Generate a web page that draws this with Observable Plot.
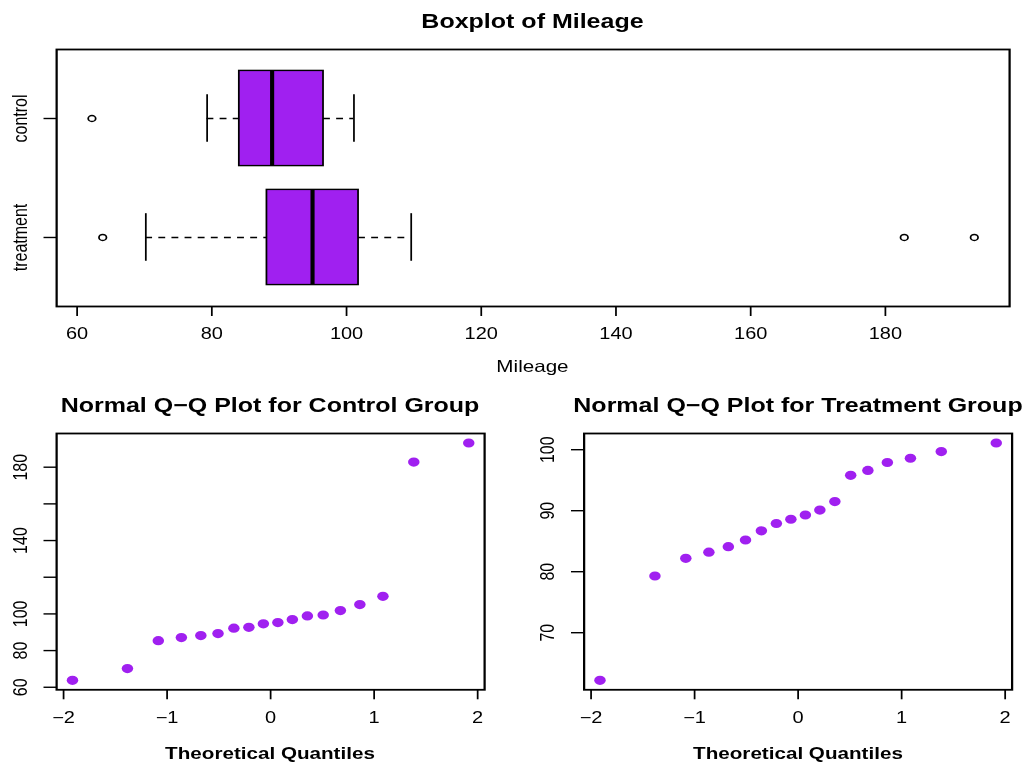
<!DOCTYPE html>
<html><head><meta charset="utf-8">
<script src="https://cdn.jsdelivr.net/npm/d3@7"></script>
<script src="https://cdn.jsdelivr.net/npm/@observablehq/plot@0.6"></script>
<style>
html,body{margin:0;padding:0;background:#fff;overflow:hidden;}
#fig{position:relative;width:820.8px;height:764px;transform:scaleX(1.25);transform-origin:0 0;font-family:"Liberation Sans",Arial,Helvetica,sans-serif;color:#000;}
.lbl{position:absolute;text-align:center;white-space:nowrap;color:#000;}
</style></head><body><div id="fig"></div>
<script>
// ---------------- data ----------------
const groups = ["control", "treatment"];
const groupPositions = [2, 1];
// sorted mileage values
const controlMileage = [62.2, 79.3, 82.2, 83.2, 84.1, 85.2, 86.7, 87.9, 88.6, 89.3, 90.1, 91.5, 95.8, 96.6, 97.9, 98.6, 99.7, 101.1];
const treatmentMileage = [63.8, 70.2, 85.4, 87.1, 88.2, 89.3, 92.2, 92.7, 94.6, 95.3, 96.9, 98.9, 99.4, 101.8, 105.1, 109.6, 182.8, 193.2];
// theoretical normal quantiles of the 18 points (x positions in the Q-Q plots)
const theoreticalQuantiles = [-1.914, -1.383, -1.085, -0.862, -0.674, -0.508, -0.355, -0.210, -0.070, 0.070, 0.210, 0.355, 0.508, 0.674, 0.862, 1.085, 1.383, 1.914];
// as in the picture: the left panel ("Control Group") shows the wider-ranging sample
const qqLeftValues = treatmentMileage;
const qqRightValues = controlMileage;

const boxTitle = "Boxplot of Mileage";
const boxXLabel = "Mileage";
const qqLeftTitle = "Normal Q\u2212Q Plot for Control Group";
const qqRightTitle = "Normal Q\u2212Q Plot for Treatment Group";
const qqXLabel = "Theoretical Quantiles";

const boxXTicks = [60, 80, 100, 120, 140, 160, 180];
const qqXTicks = [-2, -1, 0, 1, 2];
const qqXTickLabels = ["\u22122", "\u22121", "0", "1", "2"];
const qqLeftYTicks = [60, 80, 100, 120, 140, 160, 180];
const qqLeftYTickLabels = ["60", "80", "100", "", "140", "", "180"];
const qqRightYTicks = [70, 80, 90, 100];
const qqRightYTickLabels = ["70", "80", "90", "100"];

// ---------------- helpers ----------------
const S = 1.25;               // horizontal stretch of the reference
const W = 1026 / S;
const PURPLE = "#A020F0";
const FONT = "'Liberation Sans', Arial, Helvetica, sans-serif";
const TICK_FONT = 16;
const fig = document.getElementById("fig");

function pad4([lo, hi]) { const d = hi - lo; return [lo - 0.04 * d, hi + 0.04 * d]; }

function boxStats(values, pos) {
  const s = values.slice().sort((a, b) => a - b);
  const n = s.length;
  const n4 = Math.floor((n + 3) / 2) / 2;
  const idx = [1, n4, (n + 1) / 2, n + 1 - n4, n];
  const q = idx.map(v => 0.5 * (s[Math.floor(v) - 1] + s[Math.ceil(v) - 1]));
  const iqr = q[3] - q[1];
  const loF = q[1] - 1.5 * iqr, hiF = q[3] + 1.5 * iqr;
  const inside = s.filter(v => v >= loF && v <= hiF);
  return {
    pos, q1: q[1], med: q[2], q3: q[3],
    lo: d3.min(inside), hi: d3.max(inside),
    out: s.filter(v => v < loF || v > hiF)
  };
}

const stats = [boxStats(controlMileage, groupPositions[0]), boxStats(treatmentMileage, groupPositions[1])];
const whiskerSegs = stats.flatMap(s => [{pos: s.pos, a: s.lo, b: s.q1}, {pos: s.pos, a: s.q3, b: s.hi}]);
const staples = stats.flatMap(s => [{pos: s.pos, v: s.lo}, {pos: s.pos, v: s.hi}]);
const outliers = stats.flatMap(s => s.out.map(v => ({pos: s.pos, v})));

const baseStyle = {fontFamily: FONT, color: "#000", background: "transparent", overflow: "visible"};

function place(el, left, top) {
  el.style.position = "absolute";
  el.style.left = left + "px";
  el.style.top = top + "px";
  fig.appendChild(el);
}
// text centred on (centerX, centerY) in the unstretched layout
function label(text, centerX, centerY, size, bold) {
  const w = 600;
  const d = document.createElement("div");
  d.className = "lbl";
  d.textContent = text;
  d.style.left = (centerX - w / 2) + "px";
  d.style.width = w + "px";
  d.style.top = (centerY - size / 2) + "px";
  d.style.fontSize = size + "px";
  d.style.lineHeight = size + "px";
  d.style.fontWeight = bold ? "bold" : "normal";
  fig.appendChild(d);
}

// ---------------- boxplot ----------------
const allValues = controlMileage.concat(treatmentMileage);
const boxFrameL = 56 / S, boxFrameR = 1009 / S;
const boxPlot = Plot.plot({
  width: W, height: 340,
  marginLeft: boxFrameL, marginRight: W - boxFrameR, marginTop: 49, marginBottom: 34,
  x: {domain: pad4(d3.extent(allValues))},
  y: {domain: pad4([0.5, 2.5])},
  style: baseStyle,
  marks: [
    Plot.ruleY(whiskerSegs, {y: "pos", x1: "a", x2: "b", stroke: "black", strokeWidth: 1.3, strokeDasharray: "5.5,5"}),
    Plot.rect(stats, {x1: "q1", x2: "q3", y1: d => d.pos - 0.4, y2: d => d.pos + 0.4, fill: PURPLE, stroke: "black", strokeWidth: 1.4}),
    Plot.ruleX(stats, {x: "med", y1: d => d.pos - 0.4, y2: d => d.pos + 0.4, stroke: "black", strokeWidth: 3.3}),
    Plot.ruleX(staples, {x: "v", y1: d => d.pos - 0.2, y2: d => d.pos + 0.2, stroke: "black", strokeWidth: 1.4}),
    Plot.dot(outliers, {x: "v", y: "pos", r: 3, stroke: "black", strokeWidth: 1.4, fill: "none"}),
    Plot.frame({stroke: "black", strokeWidth: 1.8}),
    Plot.axisX(boxXTicks, {label: null, tickSize: 10, tickPadding: 11, fontSize: TICK_FONT, strokeWidth: 1.4}),
    Plot.axisY(groupPositions, {label: null, tickSize: 10, tickPadding: 18.5, tickRotate: -90, textAnchor: "middle", lineAnchor: "middle",
      fontSize: TICK_FONT, strokeWidth: 1.4, tickFormat: d => groups[groupPositions.indexOf(d)]})
  ]
});
place(boxPlot, 0, 0);
label(boxTitle, (boxFrameL + boxFrameR) / 2, 21, 20, true);
label(boxXLabel, (boxFrameL + boxFrameR) / 2, 366, 16.5, false);

// ---------------- Q-Q plots ----------------
function qqPlot(values, yTicks, yTickLabels, frameL, frameR, left, width) {
  const data = values.map((v, i) => ({q: theoreticalQuantiles[i], v}));
  return Plot.plot({
    width, height: 374,
    marginLeft: frameL - left, marginRight: left + width - frameR, marginTop: 43, marginBottom: 374 - 299.3,
    x: {domain: pad4(d3.extent(theoreticalQuantiles))},
    y: {domain: pad4(d3.extent(values))},
    style: baseStyle,
    marks: [
      Plot.dot(data, {x: "q", y: "v", r: 4.6, fill: PURPLE, stroke: "none"}),
      Plot.frame({stroke: "black", strokeWidth: 1.8}),
      Plot.axisX(qqXTicks, {label: null, tickSize: 10, tickPadding: 11.5, fontSize: TICK_FONT, strokeWidth: 1.4,
        tickFormat: d => qqXTickLabels[qqXTicks.indexOf(d)]}),
      Plot.axisY(yTicks, {label: null, tickSize: 10, tickPadding: 19, tickRotate: -90, textAnchor: "middle", lineAnchor: "middle",
        fontSize: TICK_FONT, strokeWidth: 1.4, tickFormat: d => yTickLabels[yTicks.indexOf(d)]})
    ]
  });
}
const half = W / 2;
const lFL = 56 / S, lFR = 484 / S, rFL = 584 / S, rFR = 1012 / S;
place(qqPlot(qqLeftValues, qqLeftYTicks, qqLeftYTickLabels, lFL, lFR, 0, half), 0, 390);
place(qqPlot(qqRightValues, qqRightYTicks, qqRightYTickLabels, rFL, rFR, half, half), half, 390);
label(qqLeftTitle, (lFL + lFR) / 2, 405, 20, true);
label(qqRightTitle, (rFL + rFR) / 2, 405, 20, true);
label(qqXLabel, (lFL + lFR) / 2, 753, 16.5, true);
label(qqXLabel, (rFL + rFR) / 2, 753, 16.5, true);
</script>
</body></html>
